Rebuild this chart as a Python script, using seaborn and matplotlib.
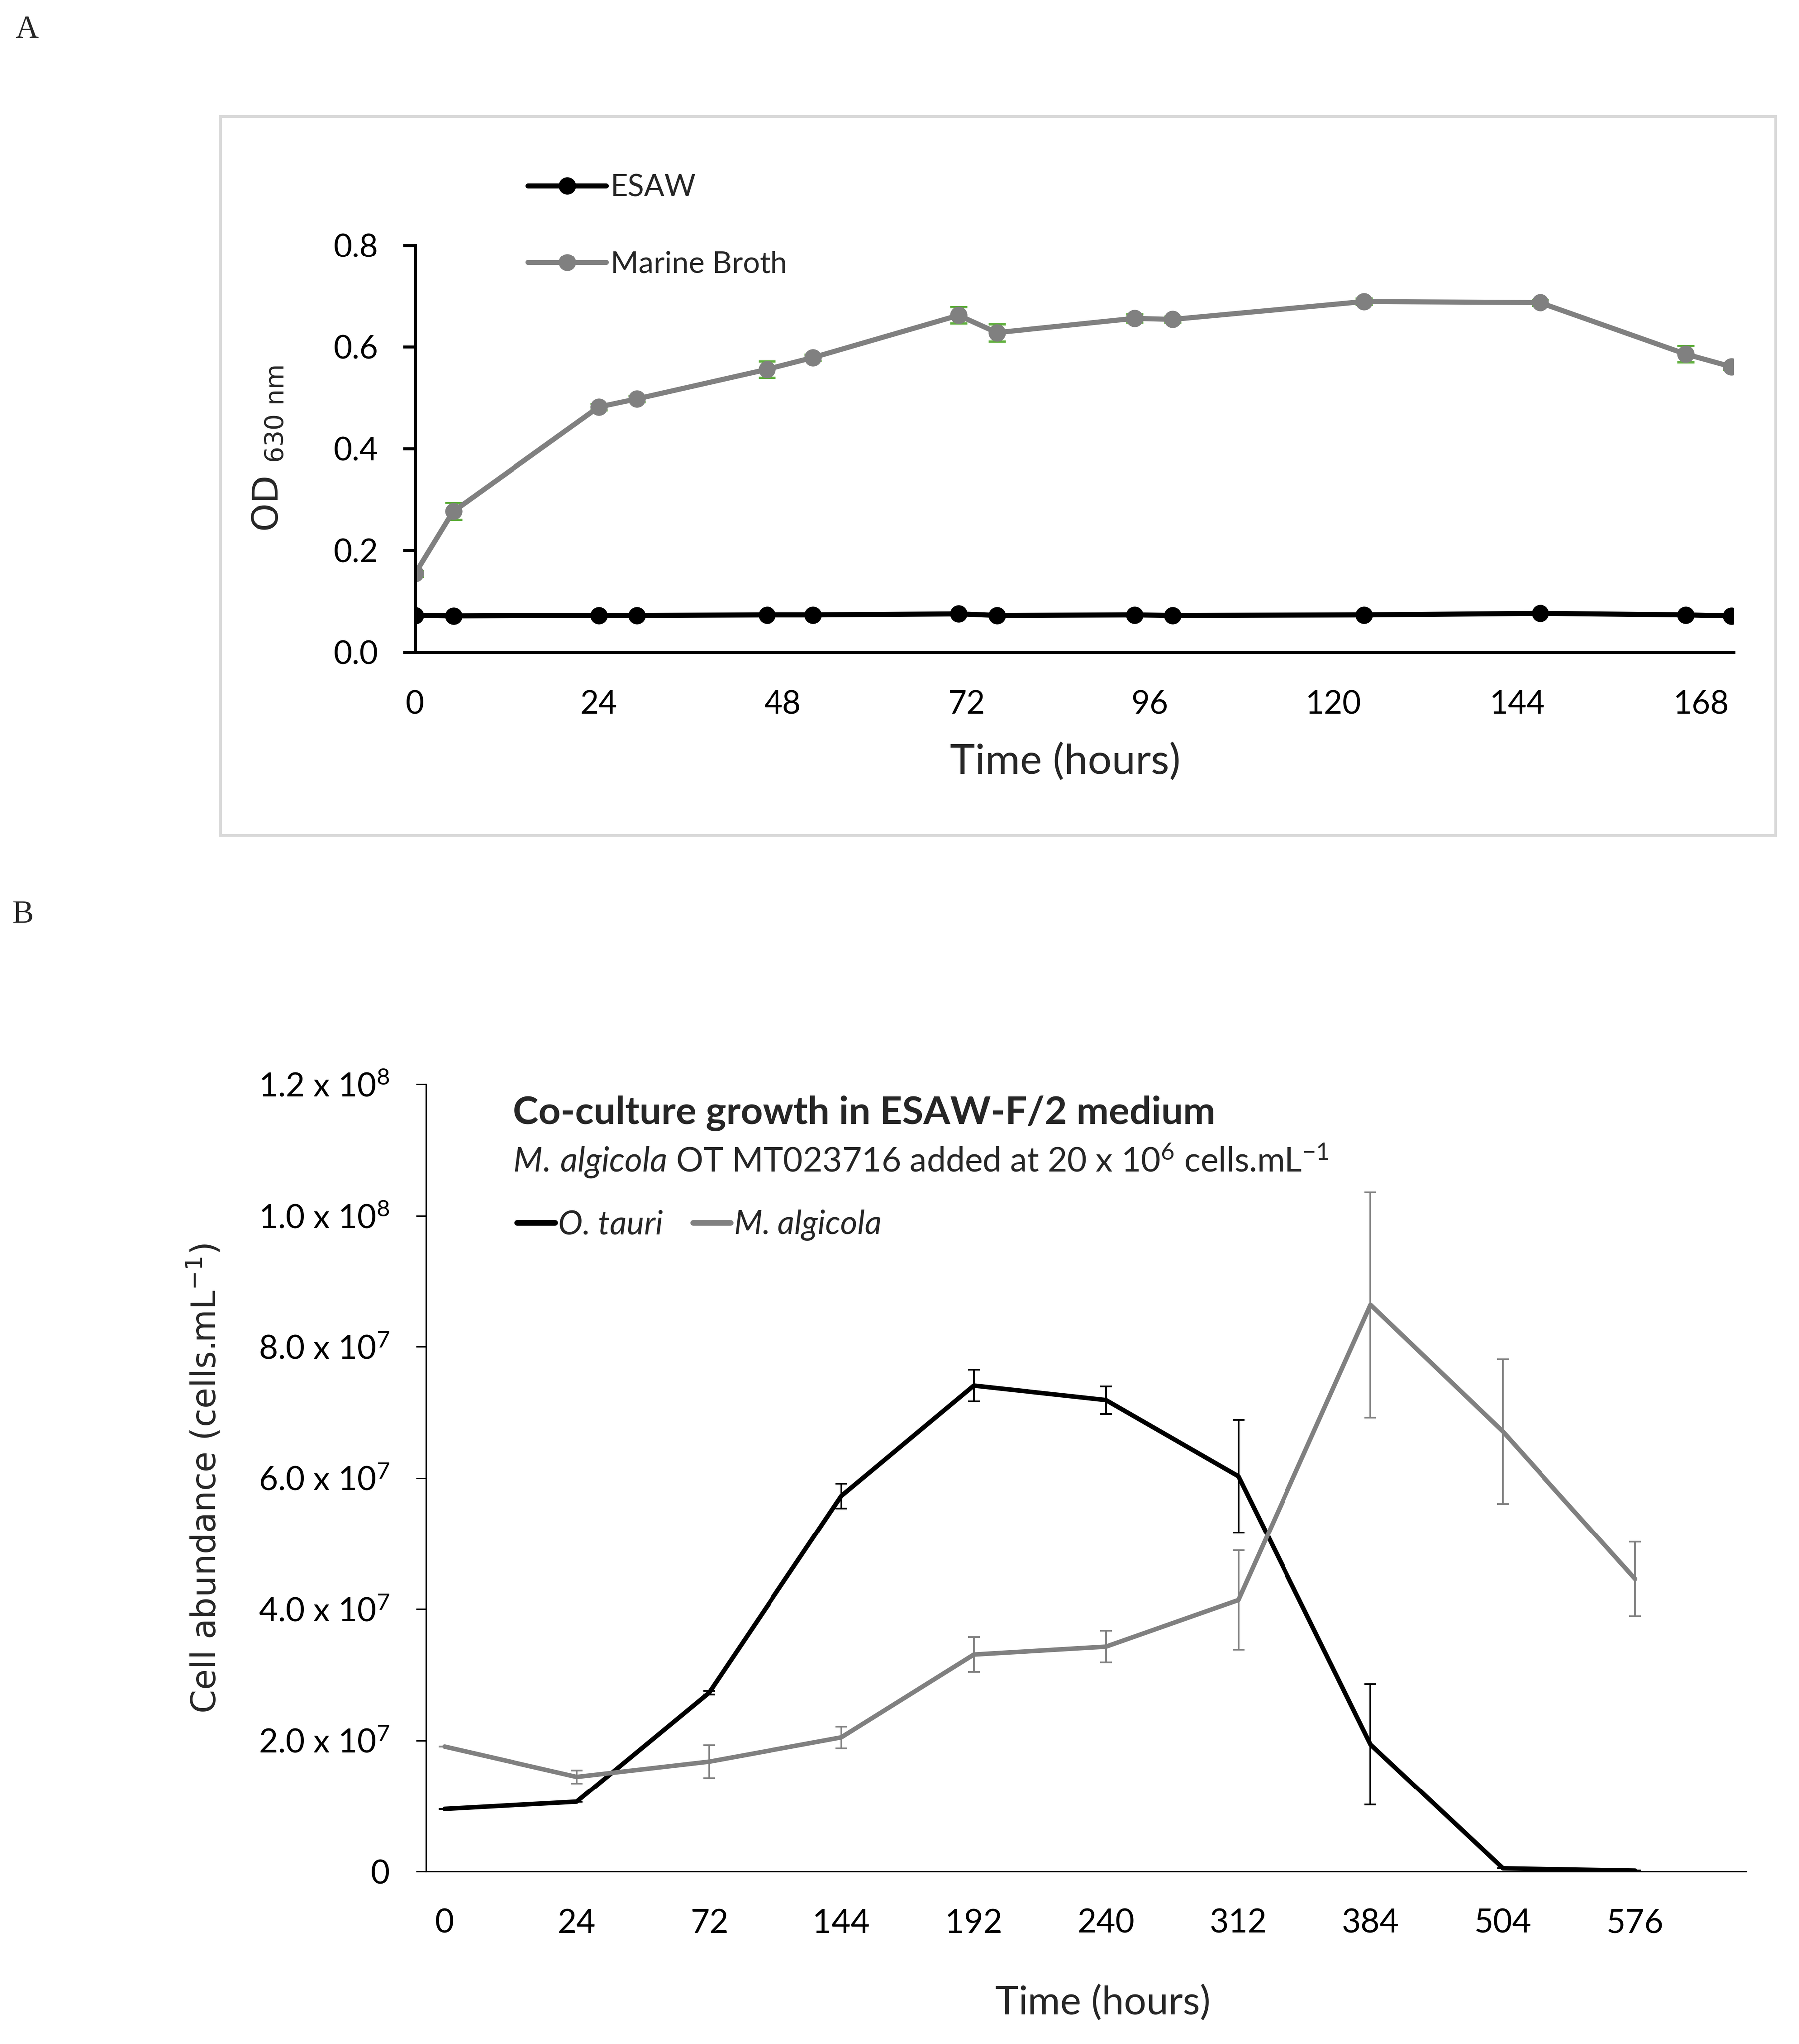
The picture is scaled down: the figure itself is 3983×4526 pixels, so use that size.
import numpy as np
import pandas as pd
import matplotlib
matplotlib.use("Agg")
import matplotlib.pyplot as plt
from matplotlib.patches import Rectangle
from matplotlib.lines import Line2D
import seaborn as sns

# ---------------- Panel A data ----------------
time_a = [0, 5, 24, 29, 46, 52, 71, 76, 94, 99, 124, 147, 166, 172]
od_esaw = [0.072, 0.071, 0.072, 0.072, 0.073, 0.073, 0.075, 0.072, 0.073, 0.072, 0.073, 0.076, 0.073, 0.071]
od_esaw_err = [0.002, 0.002, 0.002, 0.002, 0.002, 0.002, 0.002, 0.002, 0.002, 0.002, 0.002, 0.002, 0.002, 0.002]
od_marine = [0.154, 0.277, 0.482, 0.498, 0.556, 0.579, 0.662, 0.628, 0.656, 0.654, 0.689, 0.687, 0.586, 0.561]
od_marine_err = [0.006, 0.017, 0.006, 0.006, 0.016, 0.006, 0.016, 0.017, 0.008, 0.006, 0.006, 0.006, 0.016, 0.006]
xticks_a = [0, 24, 48, 72, 96, 120, 144, 168]
yticks_a = [0.0, 0.2, 0.4, 0.6, 0.8]
media = ["ESAW", "Marine Broth"]

# ---------------- Panel B data ----------------
time_b_labels = ["0", "24", "72", "144", "192", "240", "312", "384", "504", "576"]
otauri = [0.955e7, 1.066e7, 2.73e7, 5.73e7, 7.41e7, 7.19e7, 6.03e7, 1.94e7, 0.05e7, 0.015e7]
otauri_err = [0, 0, 0.03e7, 0.19e7, 0.24e7, 0.21e7, 0.86e7, 0.92e7, 0, 0]
malg = [1.91e7, 1.447e7, 1.68e7, 2.05e7, 3.31e7, 3.43e7, 4.14e7, 8.64e7, 6.71e7, 4.46e7]
malg_err = [0, 0.1e7, 0.25e7, 0.165e7, 0.265e7, 0.24e7, 0.755e7, 1.72e7, 1.1e7, 0.57e7]
species = ["O. tauri", "M. algicola"]
yticks_b = [0, 2e7, 4e7, 6e7, 8e7, 1e8, 1.2e8]
yticklabels_b = ["0", "2.0 x 10$^{7}$", "4.0 x 10$^{7}$", "6.0 x 10$^{7}$",
                 "8.0 x 10$^{7}$", "1.0 x 10$^{8}$", "1.2 x 10$^{8}$"]

BLACK = "#000000"
GREY = "#808080"
GREEN = "#5fae3c"

sns.set_theme(style="white")
plt.rcParams.update({
    "font.family": ["Lato", "DejaVu Sans"],
    "mathtext.fontset": "custom",
    "mathtext.rm": "Lato",
    "mathtext.it": "Lato:italic",
    "mathtext.bf": "Lato:bold",
    "axes.facecolor": "white",
    "figure.facecolor": "white",
})

W, H = 3983, 4526
DPI = 300
fig = plt.figure(figsize=(W / DPI, H / DPI), dpi=DPI)

# ---------------- Panel A ----------------
axA = fig.add_axes([0.2307, 0.681, 0.733, 0.199])
dfA = pd.DataFrame({
    "time": time_a + time_a,
    "od": od_esaw + od_marine,
    "medium": [media[0]] * len(time_a) + [media[1]] * len(time_a),
})
axA.errorbar(time_a, od_marine, yerr=od_marine_err, fmt="none", ecolor=GREEN,
             elinewidth=1.2, capsize=4.5, capthick=1.2, zorder=1)
axA.errorbar(time_a, od_esaw, yerr=od_esaw_err, fmt="none", ecolor=GREEN,
             elinewidth=1.2, capsize=4.5, capthick=1.2, zorder=1)
sns.lineplot(data=dfA, x="time", y="od", hue="medium", hue_order=media,
             palette={media[0]: BLACK, media[1]: GREY}, marker="o",
             markersize=9.2, markeredgewidth=0, linewidth=2.7,
             errorbar=None, legend=False, ax=axA, zorder=2)
axA.set_xlim(0, 172.3)
axA.set_ylim(0, 0.8)
axA.set_xticks(xticks_a)
axA.set_xticklabels([str(t) for t in xticks_a])
axA.set_yticks(yticks_a)
axA.set_yticklabels([f"{v:.1f}" for v in yticks_a])
for s in ["top", "right"]:
    axA.spines[s].set_visible(False)
for s in ["left", "bottom"]:
    axA.spines[s].set_color(BLACK)
    axA.spines[s].set_linewidth(1.6)
axA.tick_params(axis="x", length=0, pad=20, labelsize=17, colors=BLACK)
axA.tick_params(axis="y", length=6.4, width=1.6, direction="out", pad=13,
                labelsize=17, colors=BLACK, left=True)
axA.set_xlabel("Time (hours)", fontsize=22.5, va="center")
axA.xaxis.set_label_coords(0.4929, -0.270)
axA.set_ylabel(r"OD $_{\mathrm{630\ nm}}$", fontsize=19.5, va="center",
               family="DejaVu Sans", math_fontfamily="dejavusans")
axA.yaxis.set_label_coords(-0.1115, 0.5)
axA.grid(False)

handlesA = [
    Line2D([], [], color=BLACK, lw=2.7, marker="o", markersize=9.2, markeredgewidth=0),
    Line2D([], [], color=GREY, lw=2.7, marker="o", markersize=9.2, markeredgewidth=0),
]
fig.legend(handlesA, media, loc="center left", bbox_to_anchor=(0.2935, 0.8894),
           frameon=False, fontsize=16, handlelength=2.6, handletextpad=0.15,
           labelspacing=1.62, borderpad=0, borderaxespad=0)

# frame around panel A
fig.patches.append(Rectangle((0.1225, 0.5913), 0.987 - 0.1225, 0.9429 - 0.5913,
                             transform=fig.transFigure, fill=False,
                             edgecolor="#d9d9d9", linewidth=1.5))

# ---------------- Panel B ----------------
axB = fig.add_axes([0.2367, 0.0843, 0.734, 0.3851])
idx = list(range(len(time_b_labels)))
dfB = pd.DataFrame({
    "pos": idx + idx,
    "cells": otauri + malg,
    "species": [species[0]] * len(idx) + [species[1]] * len(idx),
})
sns.lineplot(data=dfB, x="pos", y="cells", hue="species", hue_order=species,
             palette={species[0]: BLACK, species[1]: GREY}, linewidth=2.4,
             errorbar=None, legend=False, ax=axB, zorder=2)
axB.errorbar(idx, otauri, yerr=otauri_err, fmt="none", ecolor=BLACK,
             elinewidth=0.9, capsize=3.2, capthick=0.9, zorder=3)
axB.errorbar(idx, malg, yerr=malg_err, fmt="none", ecolor=GREY,
             elinewidth=0.9, capsize=3.2, capthick=0.9, zorder=3)
axB.set_xlim(-0.141, 9.84)
axB.set_ylim(0, 1.2e8)
axB.set_xticks(idx)
axB.set_xticklabels(time_b_labels)
axB.set_yticks(yticks_b)
axB.set_yticklabels(yticklabels_b)
for s in ["top", "right"]:
    axB.spines[s].set_visible(False)
for s in ["left", "bottom"]:
    axB.spines[s].set_color(BLACK)
    axB.spines[s].set_linewidth(0.75)
axB.tick_params(axis="x", length=0, pad=19.5, labelsize=17.5, colors=BLACK)
axB.tick_params(axis="y", length=5.2, width=0.75, direction="out", pad=14,
                labelsize=17.5, colors=BLACK, left=True)
axB.set_xlabel("Time (hours)", fontsize=21, va="center")
axB.xaxis.set_label_coords(0.5127, -0.1667)
axB.set_ylabel(r"Cell abundance (cells.mL$^{\mathrm{-1}}$)", fontsize=18, va="center",
               family="DejaVu Sans", math_fontfamily="dejavusans")
axB.yaxis.set_label_coords(-0.1675, 0.5)
axB.grid(False)

fig.text(0.2852, 0.4554, "Co-culture growth in ESAW-F/2 medium", fontsize=20.5,
         fontweight="bold", ha="left", va="center")
fig.text(0.2852, 0.4321,
         r"$\mathit{M.\,algicola}$ OT MT023716 added at 20 x 10$^{6}$ cells.mL$^{\mathrm{-1}}$",
         fontsize=18, ha="left", va="center")
handlesB = [Line2D([], [], color=BLACK, lw=3.0), Line2D([], [], color=GREY, lw=3.0)]
fig.legend(handlesB, species, loc="center left", bbox_to_anchor=(0.2875, 0.4006),
           frameon=False, ncol=2, prop={"style": "italic", "size": 17.5},
           handlelength=1.15, handletextpad=0.1, columnspacing=0.9,
           borderpad=0, borderaxespad=0)

# panel letters
fig.text(0.015, 0.9853, "A", fontsize=17, family="Liberation Serif", ha="center", va="center")
fig.text(0.013, 0.5524, "B", fontsize=17, family="Liberation Serif", ha="center", va="center")

fig.savefig("out.png", dpi=DPI)
